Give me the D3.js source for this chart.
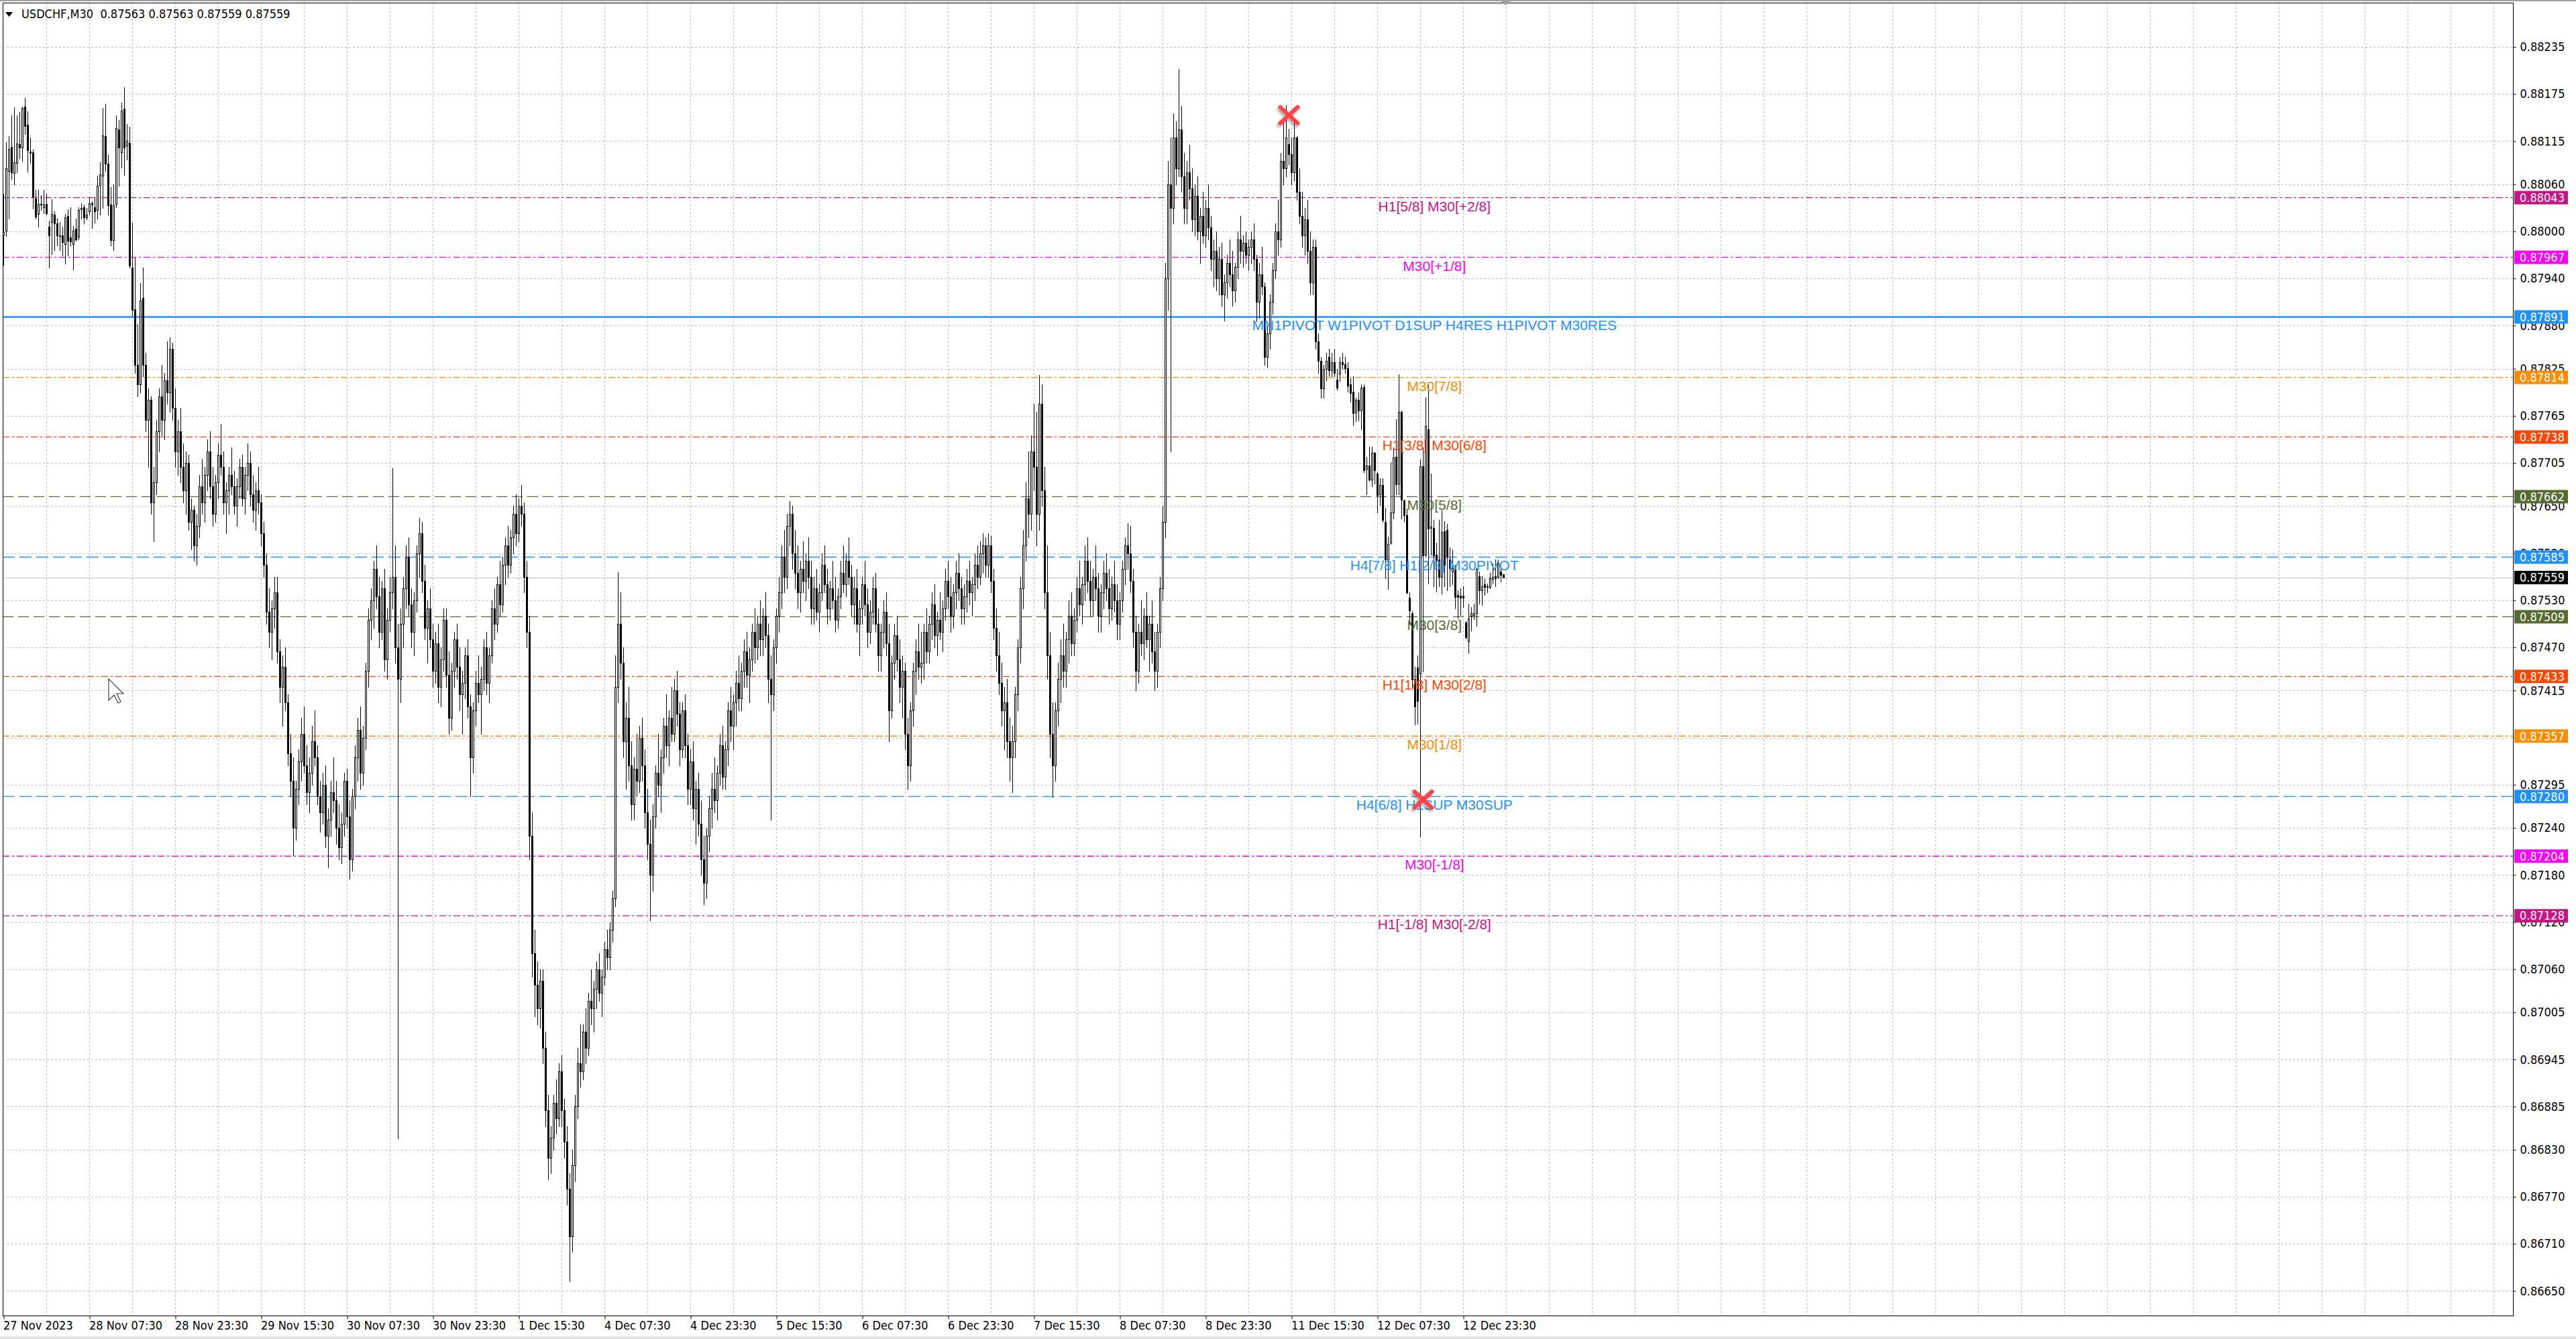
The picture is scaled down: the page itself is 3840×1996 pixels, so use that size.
<!DOCTYPE html>
<html><head><meta charset="utf-8">
<script src="https://cdn.jsdelivr.net/npm/d3@7"></script>
<style>html,body{margin:0;padding:0;background:#fff;overflow:hidden} svg{display:block}</style>
</head><body>
<svg id="c" width="3840" height="1996"></svg>
<script>
// ---------------- data (USDCHF M30, bars, 10 per line) ----------------
const chartTitle = "USDCHF,M30  0.87563 0.87563 0.87559 0.87559";
const openPrices = [
0.87996,0.88001,0.88077,0.88108,0.88074,0.88087,0.88111,0.88107,0.88159,0.88136,
0.88102,0.88101,0.88042,0.88022,0.88035,0.88031,0.88035,0.88006,0.88012,0.88021,
0.88010,0.87995,0.87995,0.87984,0.88020,0.87992,0.87984,0.88003,0.87993,0.88028,
0.88031,0.88018,0.88026,0.88036,0.88031,0.88027,0.88059,0.88071,0.88121,0.88086,
0.88034,0.87989,0.88035,0.88130,0.88101,0.88156,0.88109,0.88113,0.87954,0.87901,
0.87830,0.87805,0.87915,0.87830,0.87760,0.87785,0.87655,0.87680,0.87745,0.87790,
0.87760,0.87810,0.87795,0.87850,0.87775,0.87720,0.87745,0.87700,0.87670,0.87705,
0.87630,0.87645,0.87600,0.87625,0.87675,0.87655,0.87690,0.87720,0.87675,0.87640,
0.87680,0.87715,0.87700,0.87655,0.87670,0.87690,0.87675,0.87650,0.87675,0.87700,
0.87660,0.87690,0.87705,0.87665,0.87645,0.87670,0.87655,0.87615,0.87575,0.87515,
0.87490,0.87520,0.87540,0.87465,0.87420,0.87445,0.87400,0.87335,0.87300,0.87240,
0.87290,0.87325,0.87360,0.87320,0.87285,0.87310,0.87350,0.87330,0.87280,0.87260,
0.87295,0.87230,0.87250,0.87285,0.87275,0.87240,0.87215,0.87245,0.87300,0.87255,
0.87200,0.87280,0.87330,0.87365,0.87310,0.87355,0.87440,0.87505,0.87530,0.87570,
0.87535,0.87490,0.87545,0.87455,0.87505,0.87540,0.87560,0.87470,0.87430,0.87500,
0.87545,0.87585,0.87525,0.87490,0.87530,0.87590,0.87615,0.87555,0.87495,0.87520,
0.87480,0.87440,0.87475,0.87420,0.87455,0.87505,0.87435,0.87380,0.87440,0.87480,
0.87445,0.87410,0.87425,0.87460,0.87395,0.87330,0.87390,0.87425,0.87410,0.87430,
0.87470,0.87425,0.87460,0.87520,0.87500,0.87550,0.87525,0.87575,0.87600,0.87575,
0.87610,0.87640,0.87615,0.87650,0.87640,0.87560,0.87490,0.87230,0.87080,0.87040,
0.87010,0.87045,0.86960,0.86880,0.86820,0.86845,0.86890,0.86870,0.86930,0.86880,
0.86840,0.86780,0.86720,0.86810,0.86885,0.86940,0.86930,0.86980,0.86960,0.87020,
0.87010,0.87035,0.87060,0.87030,0.87050,0.87085,0.87075,0.87110,0.87150,0.87420,
0.87500,0.87450,0.87350,0.87380,0.87320,0.87270,0.87315,0.87300,0.87355,0.87320,
0.87260,0.87220,0.87180,0.87255,0.87310,0.87295,0.87330,0.87370,0.87345,0.87380,
0.87360,0.87415,0.87385,0.87340,0.87390,0.87345,0.87290,0.87325,0.87265,0.87290,
0.87245,0.87200,0.87170,0.87230,0.87265,0.87290,0.87275,0.87310,0.87345,0.87305,
0.87340,0.87390,0.87370,0.87400,0.87425,0.87405,0.87440,0.87465,0.87435,0.87455,
0.87490,0.87470,0.87500,0.87480,0.87510,0.87485,0.87430,0.87410,0.87470,0.87510,
0.87540,0.87585,0.87560,0.87625,0.87640,0.87590,0.87565,0.87540,0.87570,0.87555,
0.87580,0.87560,0.87520,0.87545,0.87515,0.87540,0.87575,0.87550,0.87520,0.87545,
0.87530,0.87505,0.87535,0.87565,0.87550,0.87580,0.87560,0.87525,0.87545,0.87500,
0.87520,0.87550,0.87525,0.87490,0.87515,0.87545,0.87500,0.87460,0.87490,0.87515,
0.87475,0.87390,0.87450,0.87485,0.87455,0.87420,0.87440,0.87360,0.87320,0.87390,
0.87440,0.87465,0.87445,0.87450,0.87490,0.87465,0.87500,0.87525,0.87485,0.87505,
0.87490,0.87520,0.87555,0.87535,0.87510,0.87540,0.87565,0.87545,0.87520,0.87535,
0.87555,0.87540,0.87550,0.87575,0.87560,0.87590,0.87600,0.87575,0.87600,0.87555,
0.87495,0.87460,0.87425,0.87390,0.87400,0.87350,0.87330,0.87350,0.87410,0.87470,
0.87545,0.87600,0.87660,0.87640,0.87720,0.87700,0.87640,0.87780,0.87670,0.87540,
0.87460,0.87360,0.87320,0.87390,0.87430,0.87460,0.87440,0.87480,0.87510,0.87475,
0.87505,0.87545,0.87525,0.87550,0.87580,0.87555,0.87530,0.87560,0.87545,0.87510,
0.87540,0.87565,0.87545,0.87520,0.87550,0.87530,0.87500,0.87530,0.87570,0.87600,
0.87590,0.87555,0.87490,0.87440,0.87490,0.87475,0.87510,0.87480,0.87500,0.87465,
0.87440,0.87490,0.87545,0.87630,0.87940,0.88060,0.88030,0.88120,0.88080,0.88130,
0.88070,0.88030,0.88075,0.88055,0.88015,0.88045,0.88000,0.88020,0.87995,0.88030,
0.88005,0.87965,0.87975,0.87940,0.87965,0.87920,0.87935,0.87960,0.87945,0.87925,
0.87955,0.87990,0.87975,0.87985,0.87970,0.87980,0.87990,0.87965,0.87910,0.87945,
0.87930,0.87840,0.87870,0.87910,0.87950,0.88000,0.87990,0.88090,0.88080,0.88111,
0.88098,0.88075,0.88120,0.88050,0.88020,0.87995,0.88015,0.87975,0.87935,0.87980,
0.87860,0.87835,0.87800,0.87825,0.87840,0.87823,0.87833,0.87811,0.87819,0.87833,
0.87831,0.87826,0.87805,0.87796,0.87769,0.87785,0.87772,0.87802,0.87697,0.87702,
0.87684,0.87718,0.87691,0.87665,0.87677,0.87630,0.87582,0.87603,0.87642,0.87713,
0.87679,0.87770,0.87657,0.87638,0.87533,0.87514,0.87430,0.87444,0.87437,0.87701,
0.87588,0.87748,0.87622,0.87622,0.87588,0.87582,0.87560,0.87618,0.87620,0.87582,
0.87567,0.87570,0.87537,0.87536,0.87536,0.87502,0.87478,0.87510,0.87511,0.87514,
0.87561,0.87543,0.87550,0.87548,0.87547,0.87557,0.87561,0.87560,0.87567,0.87563];
const highPrices = [
0.88048,0.88114,0.88121,0.88148,0.88158,0.88148,0.88152,0.88159,0.88170,0.88153,
0.88120,0.88104,0.88053,0.88053,0.88046,0.88053,0.88048,0.88014,0.88041,0.88026,
0.88017,0.88012,0.88006,0.88022,0.88028,0.88031,0.88007,0.88016,0.88031,0.88036,
0.88034,0.88030,0.88043,0.88038,0.88044,0.88071,0.88088,0.88157,0.88162,0.88097,
0.88056,0.88060,0.88148,0.88142,0.88164,0.88184,0.88137,0.88133,0.88011,0.87967,
0.87882,0.87934,0.87954,0.87845,0.87800,0.87790,0.87700,0.87760,0.87800,0.87830,
0.87820,0.87860,0.87865,0.87858,0.87800,0.87760,0.87775,0.87730,0.87720,0.87715,
0.87660,0.87650,0.87640,0.87690,0.87710,0.87700,0.87735,0.87745,0.87700,0.87690,
0.87730,0.87755,0.87720,0.87680,0.87700,0.87725,0.87695,0.87685,0.87710,0.87715,
0.87700,0.87730,0.87720,0.87690,0.87680,0.87700,0.87665,0.87630,0.87590,0.87545,
0.87530,0.87560,0.87560,0.87480,0.87460,0.87470,0.87410,0.87360,0.87330,0.87300,
0.87340,0.87380,0.87395,0.87345,0.87330,0.87370,0.87390,0.87345,0.87300,0.87310,
0.87320,0.87265,0.87300,0.87330,0.87300,0.87270,0.87260,0.87310,0.87315,0.87275,
0.87290,0.87345,0.87380,0.87395,0.87370,0.87450,0.87520,0.87545,0.87580,0.87600,
0.87560,0.87555,0.87570,0.87520,0.87560,0.87698,0.87600,0.87500,0.87520,0.87560,
0.87600,0.87610,0.87545,0.87540,0.87600,0.87635,0.87630,0.87575,0.87530,0.87545,
0.87500,0.87490,0.87500,0.87470,0.87520,0.87520,0.87465,0.87450,0.87490,0.87500,
0.87470,0.87440,0.87470,0.87480,0.87410,0.87400,0.87440,0.87460,0.87445,0.87480,
0.87490,0.87470,0.87530,0.87545,0.87560,0.87580,0.87585,0.87610,0.87625,0.87620,
0.87650,0.87665,0.87660,0.87677,0.87655,0.87580,0.87510,0.87260,0.87110,0.87070,
0.87060,0.87060,0.86980,0.86900,0.86860,0.86900,0.86920,0.86940,0.86950,0.86895,
0.86860,0.86800,0.86830,0.86900,0.86960,0.86990,0.86990,0.87010,0.87030,0.87060,
0.87045,0.87070,0.87080,0.87060,0.87095,0.87110,0.87120,0.87160,0.87460,0.87566,
0.87540,0.87470,0.87400,0.87420,0.87350,0.87330,0.87360,0.87370,0.87380,0.87340,
0.87290,0.87250,0.87270,0.87320,0.87360,0.87340,0.87380,0.87410,0.87390,0.87420,
0.87430,0.87440,0.87400,0.87400,0.87410,0.87360,0.87340,0.87350,0.87300,0.87310,
0.87275,0.87230,0.87240,0.87280,0.87310,0.87330,0.87320,0.87360,0.87370,0.87350,
0.87400,0.87420,0.87410,0.87440,0.87460,0.87450,0.87480,0.87490,0.87470,0.87500,
0.87520,0.87510,0.87530,0.87520,0.87540,0.87500,0.87460,0.87480,0.87520,0.87560,
0.87600,0.87620,0.87640,0.87656,0.87650,0.87620,0.87600,0.87580,0.87605,0.87590,
0.87610,0.87580,0.87560,0.87570,0.87550,0.87590,0.87600,0.87570,0.87555,0.87580,
0.87560,0.87545,0.87580,0.87600,0.87590,0.87610,0.87575,0.87560,0.87570,0.87530,
0.87560,0.87580,0.87545,0.87530,0.87560,0.87565,0.87520,0.87500,0.87530,0.87540,
0.87500,0.87460,0.87500,0.87510,0.87480,0.87460,0.87450,0.87380,0.87400,0.87450,
0.87480,0.87500,0.87490,0.87500,0.87520,0.87510,0.87540,0.87550,0.87515,0.87540,
0.87530,0.87570,0.87580,0.87560,0.87550,0.87580,0.87590,0.87560,0.87550,0.87570,
0.87580,0.87560,0.87590,0.87600,0.87605,0.87615,0.87610,0.87615,0.87612,0.87570,
0.87520,0.87490,0.87450,0.87420,0.87430,0.87380,0.87370,0.87420,0.87480,0.87560,
0.87620,0.87680,0.87720,0.87740,0.87780,0.87770,0.87817,0.87805,0.87700,0.87600,
0.87490,0.87400,0.87400,0.87450,0.87480,0.87500,0.87490,0.87530,0.87540,0.87520,
0.87560,0.87580,0.87560,0.87600,0.87610,0.87580,0.87570,0.87600,0.87565,0.87550,
0.87580,0.87590,0.87570,0.87560,0.87580,0.87550,0.87540,0.87580,0.87610,0.87628,
0.87625,0.87570,0.87510,0.87500,0.87530,0.87520,0.87540,0.87510,0.87530,0.87490,
0.87500,0.87560,0.87650,0.87960,0.88090,0.88120,0.88150,0.88140,0.88207,0.88160,
0.88100,0.88090,0.88110,0.88080,0.88060,0.88070,0.88030,0.88050,0.88040,0.88060,
0.88020,0.87990,0.88000,0.87980,0.87985,0.87945,0.87970,0.87990,0.87975,0.87960,
0.88000,0.88020,0.87995,0.88000,0.87990,0.88000,0.88010,0.87970,0.87960,0.87980,
0.87935,0.87880,0.87920,0.87960,0.88010,0.88040,0.88100,0.88140,0.88161,0.88131,
0.88120,0.88138,0.88121,0.88080,0.88050,0.88030,0.88040,0.88000,0.87990,0.87990,
0.87870,0.87840,0.87830,0.87845,0.87850,0.87845,0.87850,0.87825,0.87840,0.87845,
0.87840,0.87833,0.87813,0.87815,0.87788,0.87795,0.87805,0.87805,0.87713,0.87726,
0.87726,0.87719,0.87693,0.87685,0.87685,0.87648,0.87611,0.87706,0.87725,0.87761,
0.87818,0.87772,0.87658,0.87647,0.87540,0.87516,0.87445,0.87460,0.87709,0.87725,
0.87789,0.87805,0.87691,0.87632,0.87603,0.87632,0.87644,0.87631,0.87627,0.87597,
0.87595,0.87575,0.87543,0.87545,0.87548,0.87503,0.87526,0.87521,0.87526,0.87571,
0.87567,0.87561,0.87557,0.87551,0.87565,0.87577,0.87582,0.87582,0.87571,0.87563];
const lowPrices = [
0.87957,0.87994,0.88016,0.88067,0.88060,0.88075,0.88093,0.88090,0.88124,0.88076,
0.88087,0.88029,0.88016,0.88006,0.88027,0.88023,0.88021,0.87954,0.87971,0.87976,
0.87982,0.87976,0.87969,0.87959,0.87969,0.87982,0.87951,0.87988,0.87990,0.88016,
0.88010,0.88015,0.88021,0.88004,0.88011,0.88016,0.88021,0.88030,0.88077,0.88021,
0.87982,0.87976,0.88031,0.88058,0.88081,0.88072,0.88091,0.87954,0.87893,0.87820,
0.87790,0.87795,0.87815,0.87745,0.87700,0.87640,0.87605,0.87665,0.87720,0.87740,
0.87735,0.87780,0.87770,0.87760,0.87700,0.87690,0.87680,0.87655,0.87640,0.87620,
0.87595,0.87580,0.87575,0.87610,0.87640,0.87630,0.87670,0.87660,0.87625,0.87630,
0.87660,0.87690,0.87640,0.87615,0.87640,0.87665,0.87640,0.87625,0.87660,0.87650,
0.87640,0.87670,0.87650,0.87630,0.87620,0.87640,0.87600,0.87560,0.87500,0.87470,
0.87455,0.87495,0.87450,0.87400,0.87370,0.87390,0.87320,0.87280,0.87205,0.87225,
0.87270,0.87300,0.87310,0.87270,0.87260,0.87295,0.87320,0.87270,0.87235,0.87245,
0.87215,0.87190,0.87230,0.87260,0.87220,0.87200,0.87195,0.87230,0.87240,0.87175,
0.87185,0.87265,0.87300,0.87290,0.87295,0.87340,0.87420,0.87480,0.87495,0.87520,
0.87470,0.87480,0.87440,0.87430,0.87490,0.87520,0.87450,0.86844,0.87400,0.87470,
0.87520,0.87510,0.87470,0.87460,0.87515,0.87560,0.87540,0.87480,0.87450,0.87470,
0.87420,0.87425,0.87400,0.87395,0.87440,0.87420,0.87360,0.87365,0.87420,0.87430,
0.87390,0.87360,0.87405,0.87380,0.87280,0.87310,0.87370,0.87400,0.87360,0.87415,
0.87410,0.87400,0.87450,0.87480,0.87490,0.87510,0.87515,0.87550,0.87560,0.87565,
0.87590,0.87600,0.87605,0.87625,0.87540,0.87470,0.87200,0.87050,0.87000,0.86990,
0.86985,0.86940,0.86860,0.86792,0.86800,0.86830,0.86850,0.86860,0.86860,0.86820,
0.86760,0.86662,0.86700,0.86790,0.86870,0.86910,0.86920,0.86940,0.86950,0.86990,
0.86980,0.87010,0.87020,0.87000,0.87040,0.87060,0.87060,0.87095,0.87140,0.87400,
0.87430,0.87330,0.87290,0.87300,0.87250,0.87250,0.87280,0.87285,0.87300,0.87240,
0.87200,0.87122,0.87160,0.87240,0.87280,0.87260,0.87310,0.87330,0.87320,0.87350,
0.87350,0.87370,0.87320,0.87330,0.87330,0.87270,0.87270,0.87250,0.87220,0.87230,
0.87180,0.87143,0.87150,0.87210,0.87240,0.87260,0.87250,0.87295,0.87290,0.87290,
0.87320,0.87350,0.87340,0.87370,0.87390,0.87390,0.87420,0.87420,0.87400,0.87440,
0.87450,0.87455,0.87460,0.87460,0.87470,0.87400,0.87250,0.87390,0.87450,0.87490,
0.87520,0.87540,0.87545,0.87600,0.87570,0.87545,0.87520,0.87515,0.87540,0.87530,
0.87545,0.87500,0.87500,0.87505,0.87490,0.87530,0.87540,0.87500,0.87505,0.87520,
0.87490,0.87495,0.87520,0.87540,0.87535,0.87550,0.87510,0.87500,0.87490,0.87460,
0.87500,0.87510,0.87470,0.87475,0.87500,0.87490,0.87440,0.87440,0.87470,0.87460,
0.87350,0.87380,0.87430,0.87440,0.87400,0.87380,0.87340,0.87290,0.87300,0.87370,
0.87410,0.87430,0.87425,0.87430,0.87450,0.87450,0.87480,0.87470,0.87460,0.87480,
0.87465,0.87505,0.87520,0.87490,0.87495,0.87520,0.87530,0.87500,0.87500,0.87515,
0.87525,0.87510,0.87530,0.87545,0.87550,0.87565,0.87560,0.87560,0.87540,0.87480,
0.87440,0.87410,0.87370,0.87340,0.87330,0.87300,0.87285,0.87330,0.87390,0.87450,
0.87520,0.87580,0.87610,0.87620,0.87670,0.87600,0.87620,0.87650,0.87520,0.87430,
0.87330,0.87279,0.87300,0.87370,0.87400,0.87420,0.87420,0.87450,0.87460,0.87460,
0.87490,0.87510,0.87500,0.87530,0.87540,0.87510,0.87510,0.87530,0.87490,0.87490,
0.87520,0.87530,0.87500,0.87505,0.87515,0.87480,0.87480,0.87515,0.87550,0.87570,
0.87540,0.87470,0.87415,0.87425,0.87460,0.87455,0.87470,0.87440,0.87450,0.87415,
0.87420,0.87470,0.87530,0.87610,0.87900,0.87720,0.88010,0.88060,0.88070,0.88050,
0.88010,0.88010,0.88040,0.88000,0.87995,0.87990,0.87960,0.87985,0.87980,0.87990,
0.87950,0.87930,0.87925,0.87920,0.87905,0.87886,0.87915,0.87930,0.87905,0.87910,
0.87940,0.87960,0.87955,0.87960,0.87950,0.87960,0.87950,0.87885,0.87890,0.87920,
0.87830,0.87827,0.87850,0.87895,0.87940,0.87970,0.87980,0.88060,0.88070,0.88085,
0.88060,0.88065,0.88040,0.88010,0.87980,0.87970,0.87960,0.87920,0.87920,0.87850,
0.87820,0.87788,0.87788,0.87810,0.87816,0.87815,0.87815,0.87798,0.87809,0.87825,
0.87820,0.87796,0.87783,0.87753,0.87758,0.87759,0.87748,0.87693,0.87665,0.87682,
0.87675,0.87679,0.87642,0.87651,0.87630,0.87558,0.87544,0.87602,0.87634,0.87665,
0.87665,0.87634,0.87631,0.87538,0.87500,0.87420,0.87372,0.87373,0.87229,0.87439,
0.87585,0.87551,0.87588,0.87548,0.87541,0.87548,0.87538,0.87548,0.87543,0.87548,
0.87550,0.87520,0.87508,0.87511,0.87521,0.87481,0.87463,0.87491,0.87506,0.87497,
0.87526,0.87524,0.87537,0.87540,0.87545,0.87551,0.87548,0.87558,0.87554,0.87559];
const closePrices = [
0.87999,0.88080,0.88105,0.88075,0.88088,0.88112,0.88107,0.88157,0.88134,0.88103,
0.88100,0.88044,0.88019,0.88035,0.88034,0.88034,0.88023,0.87995,0.88022,0.88010,
0.87995,0.87994,0.87986,0.88018,0.87988,0.87987,0.88001,0.87990,0.88027,0.88030,
0.88018,0.88021,0.88036,0.88034,0.88026,0.88058,0.88073,0.88122,0.88086,0.88033,
0.87989,0.88033,0.88132,0.88107,0.88154,0.88107,0.88115,0.87956,0.87900,0.87830,
0.87805,0.87912,0.87830,0.87760,0.87785,0.87655,0.87680,0.87745,0.87790,0.87760,
0.87810,0.87795,0.87850,0.87775,0.87720,0.87745,0.87700,0.87670,0.87705,0.87630,
0.87645,0.87600,0.87625,0.87675,0.87655,0.87690,0.87720,0.87675,0.87640,0.87680,
0.87715,0.87700,0.87655,0.87670,0.87690,0.87675,0.87650,0.87675,0.87700,0.87660,
0.87690,0.87705,0.87665,0.87645,0.87670,0.87655,0.87615,0.87575,0.87515,0.87490,
0.87520,0.87540,0.87465,0.87420,0.87445,0.87400,0.87335,0.87300,0.87240,0.87290,
0.87325,0.87360,0.87320,0.87285,0.87310,0.87350,0.87330,0.87280,0.87260,0.87295,
0.87230,0.87250,0.87285,0.87275,0.87240,0.87215,0.87245,0.87300,0.87255,0.87200,
0.87280,0.87330,0.87365,0.87310,0.87355,0.87440,0.87505,0.87530,0.87570,0.87535,
0.87490,0.87545,0.87455,0.87505,0.87540,0.87560,0.87470,0.87430,0.87500,0.87545,
0.87585,0.87525,0.87490,0.87530,0.87590,0.87615,0.87555,0.87495,0.87520,0.87480,
0.87440,0.87475,0.87420,0.87455,0.87505,0.87435,0.87380,0.87440,0.87480,0.87445,
0.87410,0.87425,0.87460,0.87395,0.87330,0.87390,0.87425,0.87410,0.87430,0.87470,
0.87425,0.87460,0.87520,0.87500,0.87550,0.87525,0.87575,0.87600,0.87575,0.87610,
0.87640,0.87615,0.87650,0.87640,0.87560,0.87490,0.87230,0.87080,0.87040,0.87010,
0.87045,0.86960,0.86880,0.86820,0.86845,0.86890,0.86870,0.86930,0.86880,0.86840,
0.86780,0.86720,0.86810,0.86885,0.86940,0.86930,0.86980,0.86960,0.87020,0.87010,
0.87035,0.87060,0.87030,0.87050,0.87085,0.87075,0.87110,0.87150,0.87420,0.87500,
0.87450,0.87350,0.87380,0.87320,0.87270,0.87315,0.87300,0.87355,0.87320,0.87260,
0.87220,0.87180,0.87255,0.87310,0.87295,0.87330,0.87370,0.87345,0.87380,0.87360,
0.87415,0.87385,0.87340,0.87390,0.87345,0.87290,0.87325,0.87265,0.87290,0.87245,
0.87200,0.87170,0.87230,0.87265,0.87290,0.87275,0.87310,0.87345,0.87305,0.87340,
0.87390,0.87370,0.87400,0.87425,0.87405,0.87440,0.87465,0.87435,0.87455,0.87490,
0.87470,0.87500,0.87480,0.87510,0.87485,0.87430,0.87410,0.87470,0.87510,0.87540,
0.87585,0.87560,0.87625,0.87640,0.87590,0.87565,0.87540,0.87570,0.87555,0.87580,
0.87560,0.87520,0.87545,0.87515,0.87540,0.87575,0.87550,0.87520,0.87545,0.87530,
0.87505,0.87535,0.87565,0.87550,0.87580,0.87560,0.87525,0.87545,0.87500,0.87520,
0.87550,0.87525,0.87490,0.87515,0.87545,0.87500,0.87460,0.87490,0.87515,0.87475,
0.87390,0.87450,0.87485,0.87455,0.87420,0.87440,0.87360,0.87320,0.87390,0.87440,
0.87465,0.87445,0.87450,0.87490,0.87465,0.87500,0.87525,0.87485,0.87505,0.87490,
0.87520,0.87555,0.87535,0.87510,0.87540,0.87565,0.87545,0.87520,0.87535,0.87555,
0.87540,0.87550,0.87575,0.87560,0.87590,0.87600,0.87575,0.87600,0.87555,0.87495,
0.87460,0.87425,0.87390,0.87400,0.87350,0.87330,0.87350,0.87410,0.87470,0.87545,
0.87600,0.87660,0.87640,0.87720,0.87700,0.87640,0.87780,0.87670,0.87540,0.87460,
0.87360,0.87320,0.87390,0.87430,0.87460,0.87440,0.87480,0.87510,0.87475,0.87505,
0.87545,0.87525,0.87550,0.87580,0.87555,0.87530,0.87560,0.87545,0.87510,0.87540,
0.87565,0.87545,0.87520,0.87550,0.87530,0.87500,0.87530,0.87570,0.87600,0.87590,
0.87555,0.87490,0.87440,0.87490,0.87475,0.87510,0.87480,0.87500,0.87465,0.87440,
0.87490,0.87545,0.87630,0.87940,0.88060,0.88030,0.88120,0.88080,0.88130,0.88070,
0.88030,0.88075,0.88055,0.88015,0.88045,0.88000,0.88020,0.87995,0.88030,0.88005,
0.87965,0.87975,0.87940,0.87965,0.87920,0.87935,0.87960,0.87945,0.87925,0.87955,
0.87990,0.87975,0.87985,0.87970,0.87980,0.87990,0.87965,0.87910,0.87945,0.87930,
0.87840,0.87870,0.87910,0.87950,0.88000,0.87990,0.88090,0.88080,0.88120,0.88098,
0.88075,0.88120,0.88050,0.88020,0.87995,0.88015,0.87975,0.87935,0.87980,0.87860,
0.87835,0.87800,0.87825,0.87835,0.87823,0.87833,0.87820,0.87801,0.87833,0.87831,
0.87826,0.87803,0.87794,0.87768,0.87785,0.87772,0.87801,0.87696,0.87702,0.87684,
0.87718,0.87696,0.87664,0.87677,0.87632,0.87582,0.87602,0.87642,0.87712,0.87678,
0.87770,0.87658,0.87638,0.87540,0.87517,0.87429,0.87395,0.87402,0.87701,0.87587,
0.87752,0.87621,0.87624,0.87587,0.87581,0.87560,0.87617,0.87575,0.87585,0.87571,
0.87571,0.87534,0.87534,0.87533,0.87533,0.87483,0.87507,0.87514,0.87514,0.87570,
0.87543,0.87548,0.87547,0.87547,0.87558,0.87560,0.87558,0.87577,0.87562,0.87559];

const timeLabels = ["27 Nov 2023","28 Nov 07:30","28 Nov 23:30","29 Nov 15:30","30 Nov 07:30","30 Nov 23:30","1 Dec 15:30","4 Dec 07:30","4 Dec 23:30","5 Dec 15:30","6 Dec 07:30","6 Dec 23:30","7 Dec 15:30","8 Dec 07:30","8 Dec 23:30","11 Dec 15:30","12 Dec 07:30","12 Dec 23:30"];
const barsPerLabel = 32;
const priceTicks = [0.88235,0.88175,0.88115,0.88060,0.88000,0.87940,0.87880,0.87825,0.87765,0.87705,0.87650,0.87590,0.87530,0.87470,0.87415,0.87355,0.87295,0.87240,0.87180,0.87120,0.87060,0.87005,0.86945,0.86885,0.86830,0.86770,0.86710,0.86650];

const levelPrices = [0.88043,0.87967,0.87891,0.87814,0.87738,0.87662,0.87585,0.87509,0.87433,0.87357,0.87280,0.87204,0.87128];
const levelNames = ["H1[5/8] M30[+2/8]","M30[+1/8]","MN1PIVOT W1PIVOT D1SUP H4RES H1PIVOT M30RES","M30[7/8]","H1[3/8] M30[6/8]","M30[5/8]","H4[7/8] H1[2/8] M30PIVOT","M30[3/8]","H1[1/8] M30[2/8]","M30[1/8]","H4[6/8] H1SUP M30SUP","M30[-1/8]","H1[-1/8] M30[-2/8]"];
const levelKind = ["outer","plus","pivot","m78","m68","m58","pivotDash","m58","m68","m78","pivotDash","plus","outer"];
const currentPrice = 0.87559;

const markerBars = [479, 529];
const markerPrices = [0.88148, 0.87276];

// ---------------- styles ----------------
const kindStyle = {
  outer:{color:"#C71585",dash:"10,4,3,4",w:1.3},
  plus:{color:"#FF00FF",dash:"10,4,3,4",w:1.3},
  pivot:{color:"#1E90FF",dash:null,w:2.5},
  m78:{color:"#FF8C00",dash:"10,4,3,4",w:1.3},
  m68:{color:"#FF4500",dash:"10,4,3,4",w:1.3},
  m58:{color:"#556B2F",dash:"16,7",w:1.3},
  pivotDash:{color:"#1E90FF",dash:"18,7",w:1.3}
};
const uiFont = "'DejaVu Sans Condensed','DejaVu Sans',sans-serif";
const lblFont = "'Liberation Sans',Arial,sans-serif";

// ---------------- layout ----------------
const plot = {l:4, t:4, r:3746, b:1961};
const svg = d3.select("#c");
const y = d3.scaleLinear().domain([0.88235,0.86650]).range([70,1924.4]);
const x = d3.scaleLinear().domain([0,1]).range([5.5,9.5]);
const lastBar = Math.floor((plot.r - 5.5)/4);
const nBars = Math.min(openPrices.length, highPrices.length, lowPrices.length, closePrices.length);

svg.append("rect").attr("x",0).attr("y",0).attr("width",3840).attr("height",1996).attr("fill","#fff");
svg.append("rect").attr("x",0).attr("y",0).attr("width",3840).attr("height",2).attr("fill","#a0a0a0");
svg.append("rect").attr("x",0).attr("y",1992).attr("width",3840).attr("height",4).attr("fill","#e3e3e3");

const defs = svg.append("defs");
defs.append("clipPath").attr("id","pc").append("rect")
  .attr("x",plot.l).attr("y",plot.t).attr("width",plot.r-plot.l).attr("height",plot.b-plot.t);
const g = svg.append("g").attr("clip-path","url(#pc)");

// grid
const gridBars = d3.range(16, lastBar+1, 16);
g.append("g").selectAll("line").data(gridBars).join("line")
  .attr("x1",d=>Math.round(x(d)-0.5)+0.5).attr("x2",d=>Math.round(x(d)-0.5)+0.5)
  .attr("y1",plot.t).attr("y2",plot.b)
  .attr("stroke","#c0c0c0").attr("stroke-width",1).attr("stroke-dasharray","3,3");
g.append("g").selectAll("line").data(priceTicks).join("line")
  .attr("x1",plot.l).attr("x2",plot.r)
  .attr("y1",d=>Math.round(y(d))+0.5).attr("y2",d=>Math.round(y(d))+0.5)
  .attr("stroke","#c0c0c0").attr("stroke-width",1).attr("stroke-dasharray","3,3");

// level lines
g.append("g").selectAll("line").data(levelPrices).join("line")
  .attr("x1",plot.l).attr("x2",plot.r)
  .attr("y1",d=>y(d)).attr("y2",d=>y(d))
  .attr("stroke",(d,i)=>kindStyle[levelKind[i]].color)
  .attr("stroke-width",(d,i)=>kindStyle[levelKind[i]].w)
  .attr("stroke-dasharray",(d,i)=>kindStyle[levelKind[i]].dash);
g.append("line").attr("x1",plot.l).attr("x2",plot.r)
  .attr("y1",Math.round(y(currentPrice))+0.5).attr("y2",Math.round(y(currentPrice))+0.5)
  .attr("stroke","#c0c0c0").attr("stroke-width",1);

// candles
const bars = d3.range(nBars);
const hi = i=>Math.max(highPrices[i],openPrices[i],closePrices[i]);
const lo = i=>Math.min(lowPrices[i],openPrices[i],closePrices[i]);
const cg = g.append("g").attr("shape-rendering","crispEdges");
cg.selectAll("line.w").data(bars).join("line").attr("class","w")
  .attr("x1",i=>x(i)).attr("x2",i=>x(i))
  .attr("y1",i=>Math.round(y(hi(i)))).attr("y2",i=>Math.round(y(lo(i)))+1)
  .attr("stroke","#000").attr("stroke-width",1);
cg.selectAll("rect.b").data(bars).join("rect").attr("class","b")
  .attr("x",i=>x(i)-1.5)
  .attr("y",i=>Math.round(y(Math.max(openPrices[i],closePrices[i]))))
  .attr("width",3)
  .attr("height",i=>Math.max(1,Math.round(y(Math.min(openPrices[i],closePrices[i])))-Math.round(y(Math.max(openPrices[i],closePrices[i])))+1))
  .attr("fill","#000");
cg.selectAll("rect.o").data(bars.filter(i=>Math.round(y(openPrices[i]))-Math.round(y(closePrices[i]))>=2)).join("rect").attr("class","o")
  .attr("x",i=>x(i)-0.5)
  .attr("y",i=>Math.round(y(closePrices[i]))+1)
  .attr("width",1)
  .attr("height",i=>Math.round(y(openPrices[i]))-Math.round(y(closePrices[i]))-1)
  .attr("fill","#fff");

// level labels
const labelBar = 533.2;
g.append("g").selectAll("text").data(levelPrices).join("text")
  .attr("x",x(labelBar)).attr("y",d=>y(d)+20)
  .attr("text-anchor","middle")
  .attr("font-family",lblFont).attr("font-size",21)
  .attr("fill",(d,i)=>kindStyle[levelKind[i]].color)
  .text((d,i)=>levelNames[i]);

// markers (red crosses)
const f = defs.append("filter").attr("id","sh").attr("x","-50%").attr("y","-50%").attr("width","200%").attr("height","200%");
f.append("feDropShadow").attr("dx",-2).attr("dy",3).attr("stdDeviation",2).attr("flood-color","#000").attr("flood-opacity",0.35);
const mk = g.append("g").selectAll("g").data(markerBars).join("g")
  .attr("transform",(d,i)=>`translate(${x(d)},${y(markerPrices[i])})`)
  .attr("filter","url(#sh)");
mk.append("line").attr("x1",-13).attr("y1",-12).attr("x2",13).attr("y2",12);
mk.append("line").attr("x1",13).attr("y1",-12).attr("x2",-13).attr("y2",12);
mk.selectAll("line").attr("stroke","#FF4444").attr("stroke-width",6).attr("stroke-linecap","round");

// mouse cursor
svg.append("path").attr("transform","translate(162,1012) scale(2)")
  .attr("d","M0,0 L0,16 L4,12 L7,18 L9,17 L6,11 L11,11 Z")
  .attr("fill","#fff").attr("stroke","#444").attr("stroke-width",0.6);

// frame
svg.append("rect").attr("x",plot.l+0.5).attr("y",plot.t+0.5).attr("width",plot.r-plot.l).attr("height",plot.b-plot.t)
  .attr("fill","none").attr("stroke","#000").attr("stroke-width",1);
svg.append("path").attr("d",`M${x(nBars)-1},1 l-8,0 l8,7 l8,-7 z`).attr("fill","#a0a0a0");

// price axis
const ya = d3.axisRight(y).tickValues(priceTicks).tickFormat(d3.format(".5f")).tickSize(4).tickPadding(6);
const yg = svg.append("g").attr("transform",`translate(${plot.r+0.5},0)`).call(ya);
yg.select(".domain").remove();
yg.selectAll("line").attr("stroke","#000");
yg.selectAll("text").attr("font-family",uiFont).attr("font-size",18).attr("fill","#000");

// level price boxes
const bx = svg.append("g").selectAll("g").data(levelPrices.concat([currentPrice])).join("g")
  .attr("transform",d=>`translate(${plot.r+2},${y(d)})`);
bx.append("rect").attr("x",0).attr("y",-10).attr("width",80).attr("height",20)
  .attr("fill",(d,i)=>i<levelPrices.length?kindStyle[levelKind[i]].color:"#000");
bx.append("text").attr("x",8).attr("dy","0.35em").attr("fill","#fff")
  .attr("font-family",uiFont).attr("font-size",18).text(d=>d3.format(".5f")(d));

// time axis
const labelBars = timeLabels.map((t,i)=>i*barsPerLabel);
const xa = d3.axisBottom(x).tickValues(labelBars).tickFormat((d,i)=>timeLabels[i]).tickSize(5).tickPadding(3);
const xg = svg.append("g").attr("transform",`translate(0,${plot.b+0.5})`).call(xa);
xg.select(".domain").remove();
xg.selectAll("line").attr("stroke","#000");
xg.selectAll("text").attr("font-family",uiFont).attr("font-size",18).attr("fill","#000").attr("text-anchor","start").attr("dx",-1);

// title
svg.append("path").attr("d","M8,18 L19,18 L13.5,25 Z").attr("fill","#000");
svg.append("text").attr("x",32).attr("y",27).attr("font-family",uiFont).attr("font-size",18)
  .attr("fill","#000").style("white-space","pre").text(chartTitle);
</script>
</body></html>
